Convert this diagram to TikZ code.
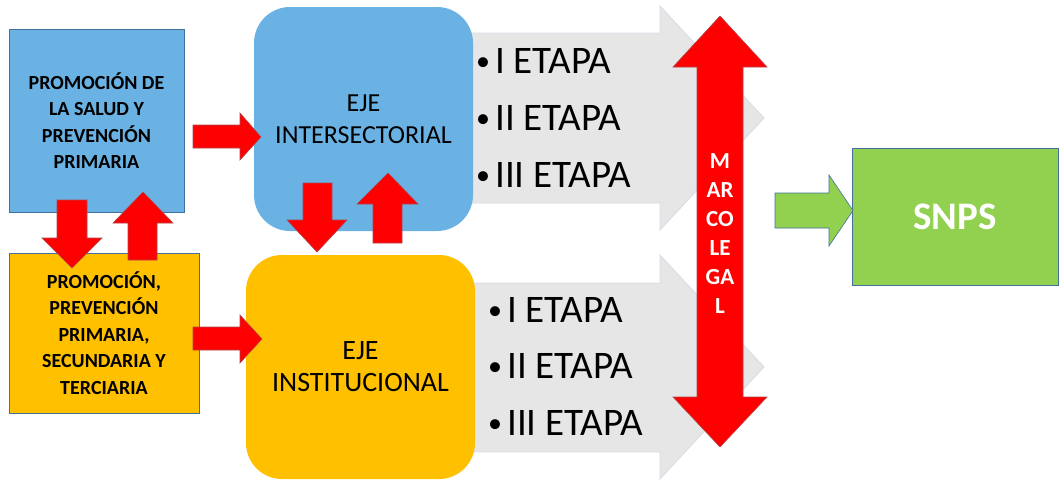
\documentclass[tikz,border=0pt]{standalone}
\usepackage{fontspec}
\setmainfont{Carlito}
\definecolor{boxblue}{HTML}{6AB2E4}
\definecolor{boxorange}{HTML}{FFC000}
\definecolor{boxgreen}{HTML}{92D050}
\definecolor{arrowgray}{HTML}{E7E6E6}
\definecolor{edgeblue}{HTML}{41719C}
\definecolor{grayedge}{HTML}{D5DCE6}
\definecolor{arrowred}{HTML}{FF0000}
\definecolor{rededge}{HTML}{B0464F}
\newcommand{\mybul}{\makebox[19pt][l]{\raisebox{3pt}{\fontsize{28}{28}\selectfont\textbullet}}}
\begin{document}
\begin{tikzpicture}[x=1pt,y=-1pt,
  sqbox/.style={draw=edgeblue,line width=0.8pt,inner sep=0pt},
  rbox/.style={rounded corners=36pt,inner sep=0pt,align=center},
  redarrow/.style={fill=arrowred,draw=rededge,line width=0.6pt},
  grayarrow/.style={fill=arrowgray,draw=grayedge,line width=0.8pt},
  greenarrow/.style={fill=boxgreen,draw=edgeblue,line width=0.6pt},
  boxtext/.style={align=center,font=\fontsize{20}{26.5}\selectfont\bfseries},
  etapa/.style={anchor=base west,inner sep=0pt,font=\fontsize{39}{47}\selectfont}]
\useasboundingbox (0,0) rectangle (1060,482);
% gray arrows
\draw[grayarrow] (470,33) -- (660,33) -- (660,6) -- (764,118) -- (660,230) -- (660,203) -- (470,203) -- cycle;
\draw[grayarrow] (470,283) -- (660,283) -- (660,255) -- (764,367) -- (660,479) -- (660,452) -- (470,452) -- cycle;
% square boxes
\node[sqbox,fill=boxblue,minimum width=175pt,minimum height=183pt] (b1) at (96.5,120.5) {};
\node[boxtext] (t1) at (b1.center) {PROMOCIÓN DE\\LA SALUD Y\\PREVENCIÓN\\PRIMARIA};
\node[sqbox,fill=boxorange,minimum width=190pt,minimum height=160pt] (b2) at (104,333) {};
\node[boxtext] (t2) at (b2.center) {PROMOCIÓN,\\PREVENCIÓN\\PRIMARIA,\\SECUNDARIA Y\\TERCIARIA};
% rounded boxes
\node[rbox,fill=boxblue,minimum width=219pt,minimum height=224pt,font=\fontsize{26}{32}\selectfont] (int) at (363.5,119) {EJE\\INTERSECTORIAL};
\node[rbox,fill=boxorange,minimum width=229pt,minimum height=224pt,font=\fontsize{28}{32}\selectfont] (ins) at (360.5,367) {EJE\\INSTITUCIONAL};
% etapas
\node[etapa] (e1) at (476,73) {\mybul I ETAPA};
\node[etapa] (e2) at (476,130) {\mybul II ETAPA};
\node[etapa] (e3) at (476,187) {\mybul III ETAPA};
\node[etapa] (e4) at (488,322) {\mybul I ETAPA};
\node[etapa] (e5) at (488,378) {\mybul II ETAPA};
\node[etapa] (e6) at (488,435) {\mybul III ETAPA};
% marco legal double arrow
\draw[redarrow] (697,67) -- (673,67) -- (720,16) -- (767,67) -- (743,67) -- (743,397) -- (767,397) -- (720,447) -- (673,397) -- (697,397) -- cycle;
\node[align=center,text=white,font=\fontsize{23}{29}\selectfont\bfseries] (ml) at (720,234) {M\\AR\\CO\\LE\\GA\\L};
% SNPS
\node[sqbox,fill=boxgreen,minimum width=206pt,minimum height=137pt,text=white,font=\fontsize{39}{47}\selectfont\bfseries] (snps) at (955,216.5) {SNPS};
\draw[greenarrow] (775,193) -- (829,193) -- (829,175) -- (853,210.5) -- (829,246) -- (829,228) -- (775,228) -- cycle;
% red arrows
\draw[redarrow] (193,125) -- (240,125) -- (240,113) -- (261,137) -- (240,160) -- (240,148) -- (193,148) -- cycle;
\draw[redarrow] (193,327) -- (240,327) -- (240,315) -- (262,339) -- (240,363) -- (240,350) -- (193,350) -- cycle;
\draw[redarrow] (57,200) -- (87,200) -- (87,238) -- (102,238) -- (72,268) -- (42,238) -- (57,238) -- cycle;
\draw[redarrow] (128,260) -- (128,223) -- (113,223) -- (143,192) -- (173,223) -- (157,223) -- (157,260) -- cycle;
\draw[redarrow] (303,183) -- (332,183) -- (332,220) -- (347,220) -- (317,252) -- (287,220) -- (303,220) -- cycle;
\draw[redarrow] (373,243) -- (373,204) -- (357,204) -- (388,173) -- (418,204) -- (402,204) -- (402,243) -- cycle;
\end{tikzpicture}
\end{document}
